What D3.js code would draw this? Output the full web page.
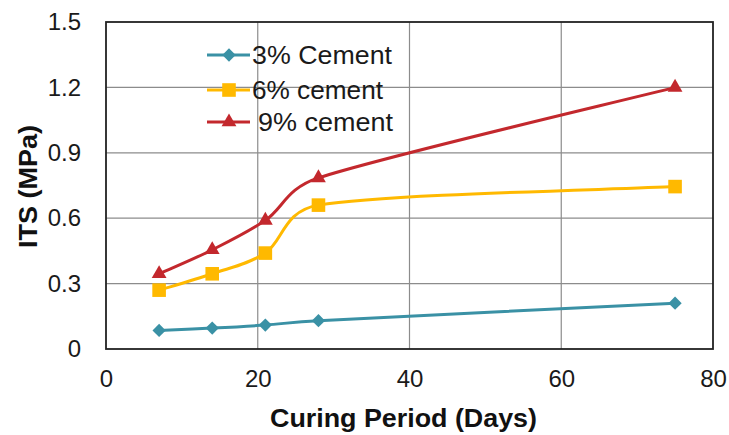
<!DOCTYPE html>
<html><head><meta charset="utf-8">
<script src="https://cdn.jsdelivr.net/npm/d3@7"></script>
<style>body{margin:0;background:#fff}svg{display:block}text{font-family:Arial,"Liberation Sans",sans-serif}</style>
</head><body><svg id="c" width="729" height="435"></svg>
<script>
const days = [7, 14, 21, 28, 75];
const cement3 = [0.085, 0.096, 0.11, 0.13, 0.21];
const cement6 = [0.27, 0.345, 0.44, 0.66, 0.745];
const cement9 = [0.345, 0.455, 0.59, 0.785, 1.2];
const seriesNames = ["3% Cement", "6% cement", "9% cement"];
const seriesColors = ["#3A91A5", "#FFB900", "#C3282D"];
const seriesSymbols = ["diamond", "square", "triangle"];
const xTicks = [0, 20, 40, 60, 80];
const yTicks = [0, 0.3, 0.6, 0.9, 1.2, 1.5];

const svg = d3.select("#c");
const L = 106, R = 713, T = 22, B = 349;
const x = d3.scaleLinear().domain([0, 80]).range([L, R]);
const y = d3.scaleLinear().domain([0, 1.5]).range([B, T]);

// gridlines
svg.append("g").selectAll("line").data(yTicks.slice(1, -1)).join("line")
  .attr("x1", L).attr("x2", R).attr("y1", d => y(d)).attr("y2", d => y(d))
  .attr("stroke", "#8c8c8c").attr("stroke-width", 1.2);
svg.append("g").selectAll("line").data(xTicks.slice(1, -1)).join("line")
  .attr("y1", T).attr("y2", B).attr("x1", d => x(d)).attr("x2", d => x(d))
  .attr("stroke", "#8c8c8c").attr("stroke-width", 1.2);

// border
svg.append("rect").attr("x", L).attr("y", T).attr("width", R - L).attr("height", B - T)
  .attr("fill", "none").attr("stroke", "#222").attr("stroke-width", 1.8);

// axes labels
const xAxis = d3.axisBottom(x).tickValues(xTicks).tickSize(0).tickPadding(21).tickFormat(d3.format("d"));
const gx = svg.append("g").attr("transform", `translate(0,${B})`).call(xAxis);
gx.select(".domain").remove();
gx.selectAll("text").attr("font-size", 24).attr("fill", "#1a1a1a").attr("font-family", "Arial, 'Liberation Sans', sans-serif");

const yAxis = d3.axisLeft(y).tickValues(yTicks).tickSize(0).tickPadding(25).tickFormat(d => d === 0 ? "0" : d3.format(".1f")(d));
const gy = svg.append("g").attr("transform", `translate(${L},0)`).call(yAxis);
gy.select(".domain").remove();
gy.selectAll("text").attr("font-size", 24).attr("fill", "#1a1a1a").attr("font-family", "Arial, 'Liberation Sans', sans-serif");

svg.append("text").attr("x", 270).attr("y", 427)
  .attr("font-size", 25).attr("font-weight", "bold").attr("fill", "#111")
  .attr("textLength", 267).attr("lengthAdjust", "spacingAndGlyphs")
  .text("Curing Period (Days)");
svg.append("text").attr("transform", "translate(37,248) rotate(-90)")
  .attr("font-size", 25).attr("font-weight", "bold").attr("fill", "#111")
  .attr("textLength", 123).attr("lengthAdjust", "spacingAndGlyphs")
  .text("ITS (MPa)");

// Excel-style smoothed line: Bezier with control points at 1/6 of the neighbour
// chord, capped at half the segment length.
function excelSmooth(pts) {
  const p = d3.path();
  const n = pts.length;
  const dist = (a, b) => Math.hypot(b[0] - a[0], b[1] - a[1]);
  p.moveTo(pts[0][0], pts[0][1]);
  for (let i = 0; i < n - 1; i++) {
    const p0 = pts[Math.max(i - 1, 0)], p1 = pts[i], p2 = pts[i + 1], p3 = pts[Math.min(i + 2, n - 1)];
    const seg = dist(p1, p2);
    let v1 = [(p2[0] - p0[0]) / 6, (p2[1] - p0[1]) / 6];
    let v2 = [(p3[0] - p1[0]) / 6, (p3[1] - p1[1]) / 6];
    const l1 = Math.hypot(v1[0], v1[1]), l2 = Math.hypot(v2[0], v2[1]);
    if (l1 > seg / 2) { v1 = [v1[0] * seg / 2 / l1, v1[1] * seg / 2 / l1]; }
    if (l2 > seg / 2) { v2 = [v2[0] * seg / 2 / l2, v2[1] * seg / 2 / l2]; }
    p.bezierCurveTo(p1[0] + v1[0], p1[1] + v1[1], p2[0] - v2[0], p2[1] - v2[1], p2[0], p2[1]);
  }
  return p.toString();
}

const allSeries = [cement3, cement6, cement9];
const symType = {diamond: d3.symbolSquare, square: d3.symbolSquare, triangle: d3.symbolTriangle};
const symSize = {diamond: 88, square: 185, triangle: 95};
const symRot = {diamond: 45, square: 0, triangle: 0};

allSeries.forEach((vals, i) => {
  const s = seriesSymbols[i];
  const pts = days.map((d, j) => [d, vals[j]]);
  const px = pts.map(d => [x(d[0]), y(d[1])]);
  svg.append("path").attr("d", excelSmooth(px)).attr("fill", "none")
    .attr("stroke", seriesColors[i]).attr("stroke-width", 3);
  svg.append("g").selectAll("path").data(pts).join("path")
    .attr("transform", d => `translate(${x(d[0])},${y(d[1])}) rotate(${symRot[s]})`)
    .attr("d", d3.symbol().type(symType[s]).size(symSize[s]))
    .attr("fill", seriesColors[i]);
});

// legend
const legY = [55, 90, 122];
const legTextX = [252, 252, 258];
const legTextLen = [140, 131, 135];
seriesNames.forEach((name, i) => {
  const s = seriesSymbols[i];
  const g = svg.append("g").attr("transform", `translate(0,${legY[i]})`);
  g.append("line").attr("x1", 207).attr("x2", 250).attr("stroke", seriesColors[i]).attr("stroke-width", 3);
  g.append("path").attr("transform", `translate(229,0) rotate(${symRot[s]})`)
    .attr("d", d3.symbol().type(symType[s]).size(symSize[s]))
    .attr("fill", seriesColors[i]);
  g.append("text").attr("x", legTextX[i]).attr("y", 9).attr("font-size", 25).attr("fill", "#1a1a1a")
    .attr("textLength", legTextLen[i]).attr("lengthAdjust", "spacingAndGlyphs").text(name);
});
</script></body></html>
